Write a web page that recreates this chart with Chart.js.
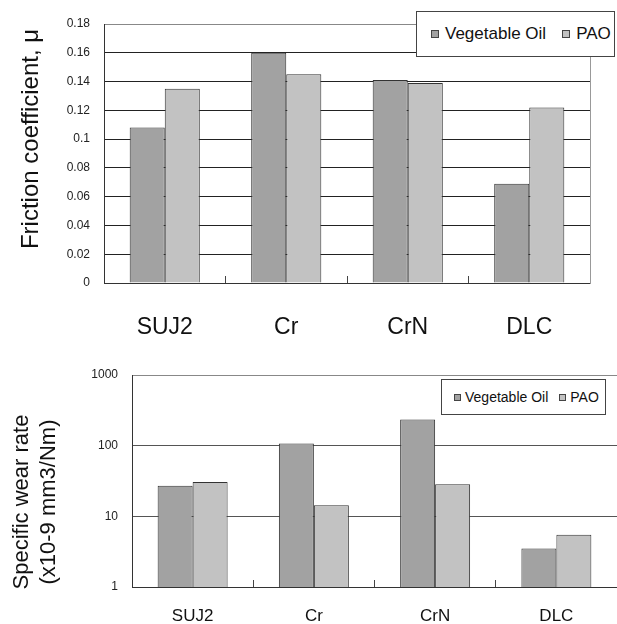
<!DOCTYPE html>
<html>
<head>
<meta charset="utf-8">
<script src="https://cdn.jsdelivr.net/npm/chart.js@4.4.0/dist/chart.umd.min.js"></script>
<style>
body { margin: 0; background: #fff; width: 617px; height: 624px; position: relative; overflow: hidden; font-family: "Liberation Sans", Arial, sans-serif; }
.panel { position: absolute; left: 0; }
.legend { position: absolute; background: #fff; border: 1px solid #444; display: flex; align-items: center; color: #111; white-space: nowrap; box-sizing: border-box; }
.legend .box { display: inline-block; border: 1px solid #444; box-sizing: border-box; }
</style>
</head>
<body>
<div class="panel" style="top:0"><canvas id="friction" width="617" height="340"></canvas></div>
<div class="panel" style="top:340px"><canvas id="wear" width="617" height="284"></canvas></div>
<div class="legend" id="legend1" style="left:416px;top:11px;width:199px;height:46px;font-size:17px;padding-left:14px"></div>
<div class="legend" id="legend2" style="left:441px;top:379px;width:165px;height:36px;font-size:14px;padding-left:12px"></div>
<script>
var categories = ['SUJ2', 'Cr', 'CrN', 'DLC']
var seriesNames = ['Vegetable Oil', 'PAO']
var barColors = ['#a2a2a2', '#c2c2c2']
// friction coefficient, mu
var frictionVeg = [0.108, 0.160, 0.141, 0.069]
var frictionPao = [0.135, 0.145, 0.139, 0.122]
var frictionTicks = [0, 0.02, 0.04, 0.06, 0.08, 0.1, 0.12, 0.14, 0.16, 0.18]
// specific wear rate (x10-9 mm3/Nm), log axis
var wearVeg = [27, 107, 235, 3.5]
var wearPao = [30.5, 14.4, 28.5, 5.5]
var wearTicks = [1, 10, 100, 1000]

var axisCaption = {
    id: 'axisCaption',
    afterDraw: function (chart, args, opts) {
        var ctx = chart.ctx
        ctx.save()
        ctx.translate(opts.x, opts.y)
        ctx.rotate(-Math.PI / 2)
        ctx.font = opts.size + 'px "Liberation Sans", Arial, sans-serif'
        ctx.fillStyle = '#111'
        ctx.textAlign = 'center'
        ctx.textBaseline = 'middle'
        opts.lines.forEach(function (line, i) {
            ctx.fillText(line, 0, i * opts.lineHeight)
        })
        ctx.restore()
    }
}

function makeDatasets(a, b) {
    return [a, b].map(function (values, i) {
        return {
            label: seriesNames[i],
            data: values,
            backgroundColor: barColors[i],
            borderColor: '#333',
            borderWidth: 1,
            categoryPercentage: 0.577,
            barPercentage: 1
        }
    })
}

function buildLegend(chart, el, boxSize, gapText, gapItem) {
    chart.data.datasets.forEach(function (ds, i) {
        var box = document.createElement('span')
        box.className = 'box'
        box.style.width = boxSize + 'px'
        box.style.height = boxSize + 'px'
        box.style.background = ds.backgroundColor
        box.style.marginRight = gapText + 'px'
        var txt = document.createElement('span')
        txt.textContent = ds.label
        if (i < chart.data.datasets.length - 1) txt.style.marginRight = gapItem + 'px'
        el.appendChild(box)
        el.appendChild(txt)
    })
}

var frictionChart = new Chart(document.getElementById('friction'), {
    type: 'bar',
    data: { labels: categories, datasets: makeDatasets(frictionVeg, frictionPao) },
    options: {
        responsive: false,
        animation: false,
        layout: { padding: { top: 24, left: 0, right: 0, bottom: 0 } },
        plugins: {
            legend: { display: false },
            tooltip: { enabled: false },
            axisCaption: { lines: ['Friction coefficient, \u03bc'], x: 31, y: 139, size: 24, lineHeight: 28 }
        },
        scales: {
            x: {
                grid: { offset: true, drawOnChartArea: false, tickLength: -7, color: '#444' },
                border: { color: '#333' },
                ticks: { padding: 38, color: '#111', font: { size: 23, family: '"Liberation Sans", Arial, sans-serif' } },
                afterFit: function (s) { s.height = 57 }
            },
            y: {
                min: 0,
                max: 0.18,
                afterBuildTicks: function (s) { s.ticks = frictionTicks.map(function (v) { return { value: v } }) },
                ticks: { callback: function (v) { return String(v) }, padding: 14, color: '#222', font: { size: 12, family: '"Liberation Sans", Arial, sans-serif' } },
                grid: { drawTicks: false, color: function (c) { return c.tick && c.tick.value === 0.18 ? '#888' : '#222' } },
                border: { color: '#333' },
                afterFit: function (s) { s.width = 104 }
            },
            yEdge: {
                position: 'right',
                ticks: { display: false },
                grid: { display: false },
                border: { color: '#999' },
                afterFit: function (s) { s.width = 27 }
            }
        }
    },
    plugins: [axisCaption]
})

var wearChart = new Chart(document.getElementById('wear'), {
    type: 'bar',
    data: { labels: categories, datasets: makeDatasets(wearVeg, wearPao) },
    options: {
        responsive: false,
        animation: false,
        layout: { padding: { top: 35, left: 0, right: 0, bottom: 0 } },
        plugins: {
            legend: { display: false },
            tooltip: { enabled: false },
            axisCaption: { lines: ['Specific wear rate', '(x10-9 mm3/Nm)'], x: 22, y: 162, size: 22, lineHeight: 27 }
        },
        scales: {
            x: {
                grid: { offset: true, drawOnChartArea: false, tickLength: -7, color: '#444' },
                border: { color: '#333' },
                ticks: { padding: 26, color: '#111', font: { size: 17, family: '"Liberation Sans", Arial, sans-serif' } },
                afterFit: function (s) { s.height = 37 }
            },
            y: {
                type: 'logarithmic',
                min: 1,
                max: 1000,
                afterBuildTicks: function (s) { s.ticks = wearTicks.map(function (v) { return { value: v } }) },
                ticks: { callback: function (v) { return String(v) }, padding: 14, color: '#222', font: { size: 12, family: '"Liberation Sans", Arial, sans-serif' } },
                grid: { drawTicks: false, color: function (c) { return c.tick && c.tick.value === 1000 ? '#888' : '#555' } },
                border: { color: '#333' },
                afterFit: function (s) { s.width = 132 }
            }
        }
    },
    plugins: [axisCaption]
})

buildLegend(frictionChart, document.getElementById('legend1'), 8, 6, 16)
buildLegend(wearChart, document.getElementById('legend2'), 7, 4, 11)
</script>
</body>
</html>
